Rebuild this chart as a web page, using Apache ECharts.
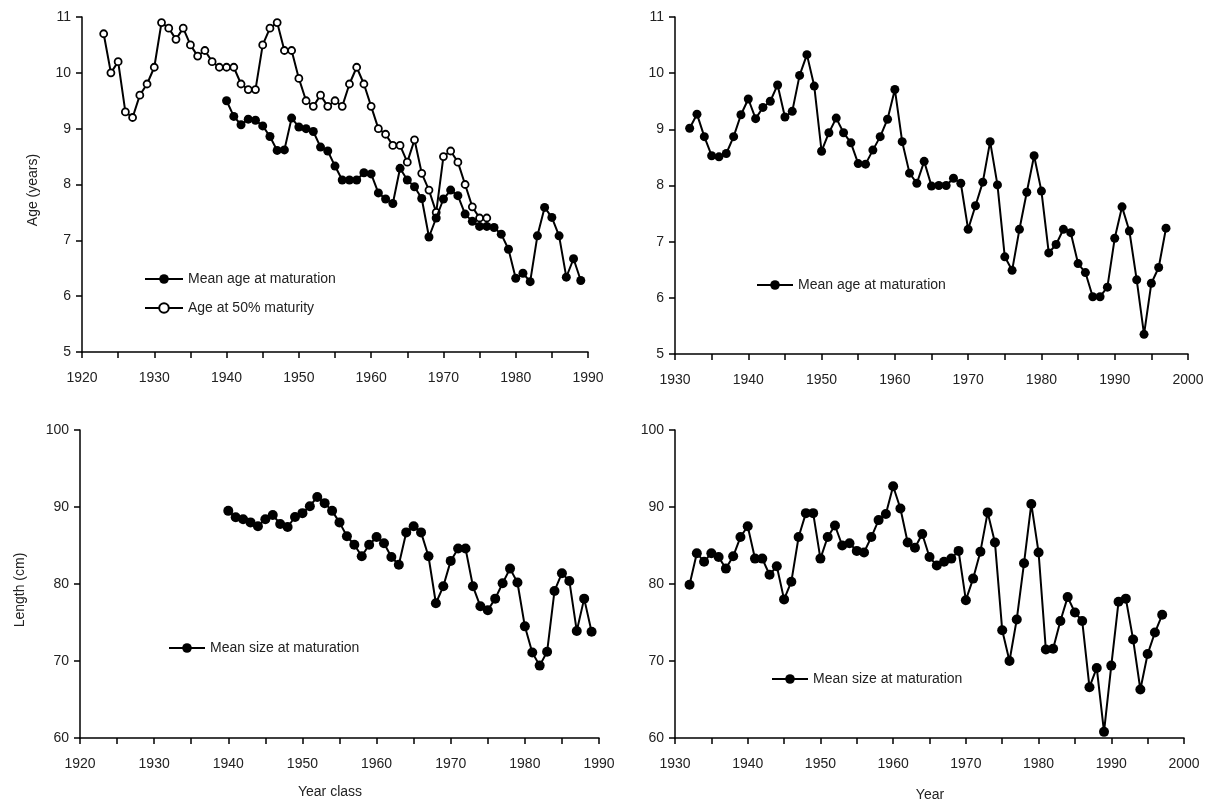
<!DOCTYPE html>
<html>
<head>
<meta charset="utf-8">
<script src="https://cdn.jsdelivr.net/npm/echarts@6/dist/echarts.min.js"></script>
<style>
html,body{margin:0;padding:0;background:#fff;}
#chart{width:1215px;height:805px;}
</style>
</head>
<body>
<div id="chart"></div>
<script>
// ---- Top-left: year class, age ----
const tlMatYears = [1940,1941,1942,1943,1944,1945,1946,1947,1948,1949,1950,1951,1952,1953,1954,1955,1956,1957,1958,1959,1960,1961,1962,1963,1964,1965,1966,1967,1968,1969,1970,1971,1972,1973,1974,1975,1976,1977,1978,1979,1980,1981,1982,1983,1984,1985,1986,1987,1988,1989];
const tlMatAge = [9.5,9.22,9.07,9.17,9.15,9.05,8.86,8.61,8.62,9.19,9.03,9.0,8.95,8.67,8.6,8.33,8.08,8.08,8.08,8.21,8.19,7.85,7.74,7.66,8.29,8.08,7.96,7.75,7.06,7.4,7.74,7.9,7.8,7.47,7.34,7.25,7.25,7.23,7.11,6.84,6.32,6.41,6.26,7.08,7.59,7.41,7.08,6.34,6.67,6.28];
const tl50Years = [1923,1924,1925,1926,1927,1928,1929,1930,1931,1932,1933,1934,1935,1936,1937,1938,1939,1940,1941,1942,1943,1944,1945,1946,1947,1948,1949,1950,1951,1952,1953,1954,1955,1956,1957,1958,1959,1960,1961,1962,1963,1964,1965,1966,1967,1968,1969,1970,1971,1972,1973,1974,1975,1976];
const tl50Age = [10.7,10.0,10.2,9.3,9.2,9.6,9.8,10.1,10.9,10.8,10.6,10.8,10.5,10.3,10.4,10.2,10.1,10.1,10.1,9.8,9.7,9.7,10.5,10.8,10.9,10.4,10.4,9.9,9.5,9.4,9.6,9.4,9.5,9.4,9.8,10.1,9.8,9.4,9.0,8.9,8.7,8.7,8.4,8.8,8.2,7.9,7.5,8.5,8.6,8.4,8.0,7.6,7.4,7.4];

// ---- Top-right: year, age ----
const trYears = [1932,1933,1934,1935,1936,1937,1938,1939,1940,1941,1942,1943,1944,1945,1946,1947,1948,1949,1950,1951,1952,1953,1954,1955,1956,1957,1958,1959,1960,1961,1962,1963,1964,1965,1966,1967,1968,1969,1970,1971,1972,1973,1974,1975,1976,1977,1978,1979,1980,1981,1982,1983,1984,1985,1986,1987,1988,1989,1990,1991,1992,1993,1994,1995,1996,1997];
const trAge = [9.02,9.27,8.87,8.53,8.51,8.57,8.87,9.26,9.54,9.19,9.39,9.5,9.79,9.22,9.32,9.96,10.33,9.77,8.61,8.94,9.2,8.94,8.76,8.39,8.38,8.63,8.87,9.18,9.71,8.78,8.22,8.04,8.43,7.99,8.0,8.0,8.13,8.04,7.22,7.64,8.06,8.78,8.01,6.73,6.49,7.22,7.88,8.53,7.9,6.8,6.95,7.22,7.16,6.61,6.45,6.02,6.02,6.19,7.06,7.62,7.19,6.32,5.35,6.26,6.54,7.24];

// ---- Bottom-left: year class, length ----
const blYears = [1940,1941,1942,1943,1944,1945,1946,1947,1948,1949,1950,1951,1952,1953,1954,1955,1956,1957,1958,1959,1960,1961,1962,1963,1964,1965,1966,1967,1968,1969,1970,1971,1972,1973,1974,1975,1976,1977,1978,1979,1980,1981,1982,1983,1984,1985,1986,1987,1988,1989];
const blSize = [89.5,88.66,88.4,88.0,87.5,88.4,88.96,87.8,87.4,88.7,89.2,90.1,91.3,90.5,89.5,88.0,86.2,85.1,83.6,85.1,86.1,85.3,83.5,82.5,86.7,87.5,86.7,83.6,77.5,79.7,83.0,84.6,84.6,79.7,77.1,76.6,78.1,80.1,82.0,80.2,74.5,71.1,69.4,71.2,79.1,81.4,80.4,73.9,78.1,73.8];

// ---- Bottom-right: year, length ----
const brYears = trYears;
const brSize = [79.9,84.0,82.9,84.0,83.5,82.0,83.6,86.1,87.5,83.3,83.3,81.2,82.3,78.0,80.3,86.1,89.2,89.2,83.3,86.1,87.6,85.0,85.3,84.3,84.1,86.1,88.3,89.1,92.7,89.8,85.4,84.7,86.5,83.5,82.4,82.9,83.3,84.3,77.9,80.7,84.2,89.3,85.4,74.0,70.0,75.4,82.7,90.4,84.1,71.5,71.6,75.2,78.3,76.3,75.2,66.6,69.1,60.8,69.4,77.7,78.1,72.8,66.3,70.9,73.7,76.0];

// ---- Axis ranges & labels ----
const xLeftRange = [1920, 1990];
const xRightRange = [1930, 2000];
const ageRange = [5, 11];
const lenRange = [60, 100];
const nameMat = 'Mean age at maturation';
const name50 = 'Age at 50% maturity';
const nameSize = 'Mean size at maturation';

const FONT = 'Liberation Sans, Arial, sans-serif';
const TXT = '#222';
const pairs = (xs, ys) => xs.map((x, i) => [x, ys[i]]);
const plain = v => String(v);

function xAxis(grid, range) {
  return {
    type: 'value', gridIndex: grid, min: range[0], max: range[1], interval: 10,
    axisLine: {show: true, onZero: false, lineStyle: {color: '#000', width: 1.5}},
    axisTick: {show: true, length: 6, lineStyle: {color: '#000', width: 1.5}},
    minorTick: {show: true, splitNumber: 2, length: 6, lineStyle: {color: '#000', width: 1.5}},
    splitLine: {show: false},
    axisLabel: {color: TXT, fontSize: 14, fontFamily: FONT, margin: 19, formatter: plain}
  };
}
function yAxis(grid, range, interval) {
  return {
    type: 'value', gridIndex: grid, min: range[0], max: range[1], interval: interval,
    axisLine: {show: true, onZero: false, lineStyle: {color: '#000', width: 1.5}},
    axisTick: {show: true, length: 6, lineStyle: {color: '#000', width: 1.5}},
    splitLine: {show: false},
    axisLabel: {color: TXT, fontSize: 14, fontFamily: FONT, margin: 11, formatter: plain}
  };
}
function filled(name, xi, data, size) {
  return {
    type: 'line', name: name, xAxisIndex: xi, yAxisIndex: xi, data: data,
    symbol: 'circle', symbolSize: size, showSymbol: true,
    lineStyle: {color: '#000', width: 2},
    itemStyle: {color: '#000', borderColor: '#000', borderWidth: 0},
    animation: false, z: 3
  };
}
const legendText = {fontSize: 14, fontFamily: FONT, color: TXT};

const chart = echarts.init(document.getElementById('chart'), null, {renderer: 'canvas'});
chart.setOption({
  backgroundColor: '#fff',
  animation: false,
  grid: [
    {left: 82, top: 17, width: 506, height: 335},
    {left: 675, top: 17, width: 513, height: 337},
    {left: 80, top: 430, width: 519, height: 308},
    {left: 675, top: 430, width: 509, height: 308}
  ],
  xAxis: [xAxis(0, xLeftRange), xAxis(1, xRightRange), xAxis(2, xLeftRange), xAxis(3, xRightRange)],
  yAxis: [yAxis(0, ageRange, 1), yAxis(1, ageRange, 1), yAxis(2, lenRange, 10), yAxis(3, lenRange, 10)],
  legend: [
    {data: [nameMat, name50], orient: 'vertical', left: 139, top: 267, itemWidth: 38, itemHeight: 12, itemGap: 15,
     selectedMode: false, textStyle: legendText},
    {data: [nameMat], left: 751, top: 273, itemWidth: 36, itemHeight: 12,
     selectedMode: false, textStyle: legendText},
    {data: [nameSize], left: 163, top: 636, itemWidth: 36, itemHeight: 12,
     selectedMode: false, textStyle: legendText},
    {data: [nameSize], left: 766, top: 667, itemWidth: 36, itemHeight: 12,
     selectedMode: false, textStyle: legendText}
  ],
  graphic: [
    {type: 'text', rotation: Math.PI / 2, position: [33, 190],
     style: {text: 'Age (years)', font: '14px ' + FONT, fill: TXT, align: 'center', verticalAlign: 'middle'}},
    {type: 'text', rotation: Math.PI / 2, position: [20, 590],
     style: {text: 'Length (cm)', font: '14px ' + FONT, fill: TXT, align: 'center', verticalAlign: 'middle'}},
    {type: 'text', position: [330, 792],
     style: {text: 'Year class', font: '14px ' + FONT, fill: TXT, align: 'center', verticalAlign: 'middle'}},
    {type: 'text', position: [930, 795],
     style: {text: 'Year', font: '14px ' + FONT, fill: TXT, align: 'center', verticalAlign: 'middle'}}
  ],
  series: [
    filled(nameMat, 0, pairs(tlMatYears, tlMatAge), 9),
    {
      type: 'line', name: name50, xAxisIndex: 0, yAxisIndex: 0, data: pairs(tl50Years, tl50Age),
      symbol: 'circle', symbolSize: 7, showSymbol: true,
      lineStyle: {color: '#000', width: 2},
      itemStyle: {color: '#fff', borderColor: '#000', borderWidth: 1.8},
      animation: false, z: 2
    },
    filled(nameMat, 1, pairs(trYears, trAge), 9),
    filled(nameSize, 2, pairs(blYears, blSize), 10),
    filled(nameSize, 3, pairs(brYears, brSize), 10)
  ]
});
</script>
</body>
</html>
